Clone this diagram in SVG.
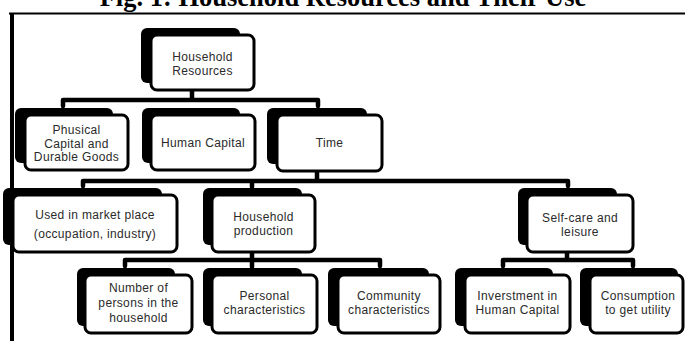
<svg xmlns="http://www.w3.org/2000/svg" width="685" height="341" viewBox="0 0 685 341">
<style>
.sh{fill:#000}
.bx{fill:#fff;stroke:#000;stroke-width:3}
.t{font-family:"Liberation Sans",Arial,sans-serif;font-size:12px;letter-spacing:0.35px;fill:#2a2a2a;text-anchor:middle}
.c{fill:none;stroke:#000;stroke-width:4.5;stroke-linecap:round;stroke-linejoin:round}
.title{font-family:"Liberation Serif","Times New Roman",serif;font-weight:bold;font-size:26.5px;fill:#000;text-anchor:middle}
</style>
<rect width="685" height="341" fill="#fff"/>
<text class="title" x="343" y="6">Fig. 1:  Household Resources and Their  Use</text>
<line x1="9" y1="13.5" x2="685" y2="13.5" stroke="#000" stroke-width="2"/>
<line x1="12" y1="13" x2="12" y2="341" stroke="#000" stroke-width="4"/>

<g id="connectors">
<path class="c" d="M192 90 V100 M63 106 V100 H318 V106"/>
<path class="c" d="M317 172 V181 M83 186 V181 H568 V186 M252 181 V187"/>
<path class="c" d="M252 252 V260 M125 266 V260 H380 V266 M252 260 V267"/>
<path class="c" d="M567 252 V260 M503 266 V260 H633 V266"/>
</g>

<g id="household-resources">
<rect class="sh" x="141" y="28" width="99" height="55" rx="6"/>
<rect class="bx" x="151" y="35" width="103" height="55" rx="6"/>
<text class="t" x="202.5" y="61">Household</text>
<text class="t" x="202.5" y="74.5">Resources</text>
</g>

<g id="physical-capital">
<rect class="sh" x="15" y="108" width="98" height="55" rx="6"/>
<rect class="bx" x="25" y="115" width="103" height="55" rx="6"/>
<text class="t" x="76.5" y="134">Phusical</text>
<text class="t" x="76.5" y="147.5">Capital and</text>
<text class="t" x="76.5" y="161">Durable Goods</text>
</g>

<g id="human-capital">
<rect class="sh" x="142" y="108" width="98" height="55" rx="6"/>
<rect class="bx" x="151" y="115" width="104" height="55" rx="6"/>
<text class="t" x="203" y="147">Human Capital</text>
</g>

<g id="time">
<rect class="sh" x="267" y="108" width="100" height="56" rx="6"/>
<rect class="bx" x="277" y="115" width="105" height="56" rx="6"/>
<text class="t" x="329.5" y="147">Time</text>
</g>

<g id="market-place">
<rect class="sh" x="3" y="188" width="159" height="57" rx="6"/>
<rect class="bx" x="13" y="195" width="164" height="57" rx="6"/>
<text class="t" x="95" y="219">Used in market place</text>
<text class="t" x="95" y="237.5">(occupation, industry)</text>
</g>

<g id="household-production">
<rect class="sh" x="203" y="188" width="99" height="57" rx="6"/>
<rect class="bx" x="212" y="195" width="103" height="57" rx="6"/>
<text class="t" x="263.5" y="221">Household</text>
<text class="t" x="263.5" y="234.5">production</text>
</g>

<g id="self-care">
<rect class="sh" x="518" y="188" width="99" height="57" rx="6"/>
<rect class="bx" x="527" y="195" width="106" height="57" rx="6"/>
<text class="t" x="580" y="222">Self-care and</text>
<text class="t" x="580" y="235.5">leisure</text>
</g>

<g id="number-of-persons">
<rect class="sh" x="77" y="268" width="98" height="58" rx="6"/>
<rect class="bx" x="85" y="275" width="107" height="58" rx="6"/>
<text class="t" x="138.5" y="292">Number of</text>
<text class="t" x="138.5" y="307">persons in the</text>
<text class="t" x="138.5" y="321.5">household</text>
</g>

<g id="personal">
<rect class="sh" x="203" y="268" width="99" height="58" rx="6"/>
<rect class="bx" x="212" y="275" width="105" height="58" rx="6"/>
<text class="t" x="264.5" y="300">Personal</text>
<text class="t" x="264.5" y="314">characteristics</text>
</g>

<g id="community">
<rect class="sh" x="328" y="268" width="101" height="58" rx="6"/>
<rect class="bx" x="338" y="275" width="102" height="58" rx="6"/>
<text class="t" x="389" y="300">Community</text>
<text class="t" x="389" y="314">characteristics</text>
</g>

<g id="investment">
<rect class="sh" x="455" y="268" width="98" height="58" rx="6"/>
<rect class="bx" x="465" y="275" width="105" height="58" rx="6"/>
<text class="t" x="517.5" y="300">Inverstment in</text>
<text class="t" x="517.5" y="314">Human Capital</text>
</g>

<g id="consumption">
<rect class="sh" x="580" y="268" width="98" height="58" rx="6"/>
<rect class="bx" x="590" y="275" width="93" height="58" rx="6"/>
<text class="t" x="638" y="300">Consumption</text>
<text class="t" x="638" y="314">to get utility</text>
</g>
</svg>
